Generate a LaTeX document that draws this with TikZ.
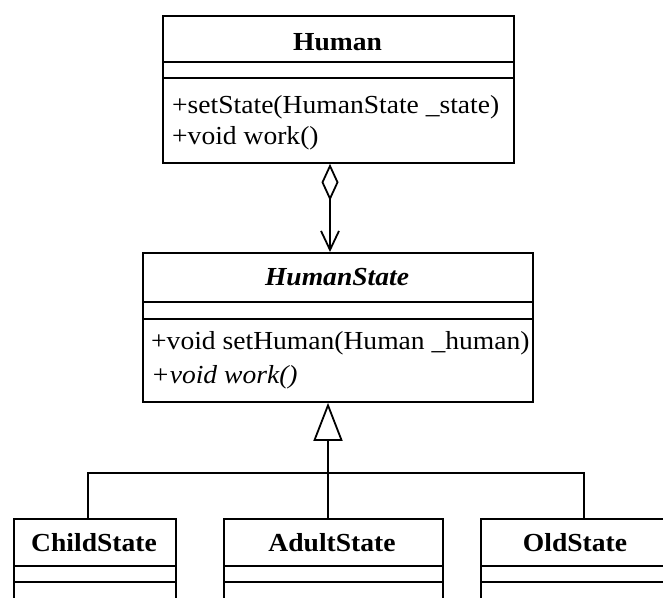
\documentclass[tikz,border=0pt]{standalone}
\usepackage{fontspec}
\setmainfont{Liberation Serif}
\usepackage{graphicx}
\usetikzlibrary{arrows.meta}
\newcommand{\sx}[1]{\scalebox{1.06}[1]{#1}}
\begin{document}
\begin{tikzpicture}[x=1pt,y=-1pt,
  box/.style={draw, line width=1.8pt, inner sep=0pt, anchor=north west},
  txt/.style={inner sep=0pt, font=\fontsize{26}{30}\selectfont},
  ln/.style={line width=1.8pt}]
\useasboundingbox (0,0) rectangle (663,597);
\fill[white] (0,0) rectangle (663,597);
\clip (0,0) rectangle (663,597);

% ---------- Human ----------
\node[box, minimum width=351pt, minimum height=147pt] (human) at (162,15) {};
\draw[ln] ([yshift=-47pt]human.north west) -- ([yshift=-47pt]human.north east);
\draw[ln] ([yshift=-63pt]human.north west) -- ([yshift=-63pt]human.north east);
\node[txt, anchor=base] (humanT) at (337.5,50) {\sx{\textbf{Human}}};
\node[txt, anchor=base west] (hm1) at (172,113) {\sx{+setState(HumanState \_state)}};
\node[txt, anchor=base west] (hm2) at (172,144) {\sx{+void work()}};

% ---------- HumanState ----------
\node[box, minimum width=390pt, minimum height=149pt] (hstate) at (142,252) {};
\draw[ln] ([yshift=-50pt]hstate.north west) -- ([yshift=-50pt]hstate.north east);
\draw[ln] ([yshift=-67pt]hstate.north west) -- ([yshift=-67pt]hstate.north east);
\node[txt, anchor=base] (hsT) at (337,285) {\sx{\textbf{\textit{HumanState}}}};
\node[txt, anchor=base west] (hs1) at (151,349) {\sx{+void setHuman(Human \_human)}};
\node[txt, anchor=base west] (hs2) at (151,383) {\sx{\textit{+void work()}}};

% ---------- subclasses ----------
\node[box, minimum width=162pt, minimum height=110pt] (child) at (13,518) {};
\node[box, minimum width=219pt, minimum height=110pt] (adult) at (223,518) {};
\node[box, minimum width=250pt, minimum height=110pt] (old) at (480,518) {};
\foreach \n in {child,adult,old}{
  \draw[ln] ([yshift=-48pt]\n.north west) -- ([yshift=-48pt]\n.north east);
  \draw[ln] ([yshift=-64pt]\n.north west) -- ([yshift=-64pt]\n.north east);
}
\node[txt, anchor=base] (childT) at (94,551) {\sx{\textbf{ChildState}}};
\node[txt, anchor=base] (adultT) at (332,551) {\sx{\textbf{AdultState}}};
\node[txt, anchor=base] (oldT) at (575,551) {\sx{\textbf{OldState}}};

% ---------- connectors ----------
\coordinate (ax) at (330,0);
\coordinate (gx) at (328,0);
\coordinate (c1x) at (88,0);
\coordinate (c3x) at (584,0);
\coordinate (bus) at (328,473);

\draw[ln, {Diamond[open,length=37pt,width=17pt]}-{Straight Barb[length=19pt,width=18pt]}]
  (human.south -| ax) -- (hstate.north -| ax);

\draw[ln, -{Triangle[open,length=38pt,width=29pt]}] (bus) -- (hstate.south -| gx);
\draw[ln] (child.north -| c1x) |- (bus) -| (old.north -| c3x);
\draw[ln] (adult.north -| gx) -- (bus);
\end{tikzpicture}
\end{document}
